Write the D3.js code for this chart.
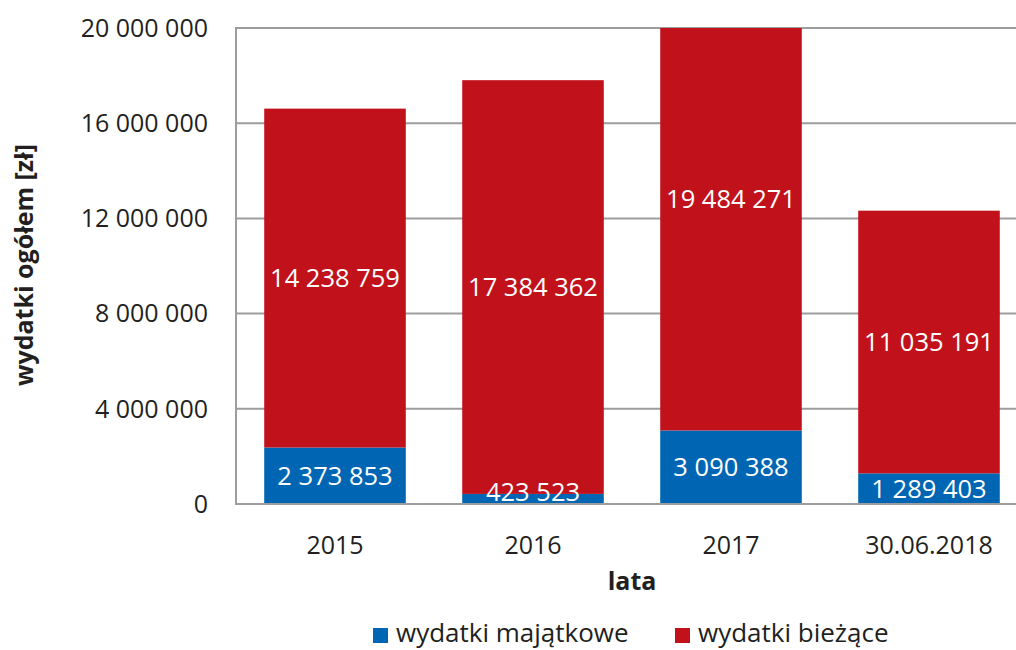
<!DOCTYPE html>
<html><head><meta charset="utf-8">
<script src="https://cdn.jsdelivr.net/npm/d3@7"></script>
<style>
html,body{margin:0;padding:0;background:#fff;}
svg{display:block;font-family:"Open Sans",sans-serif;}
</style></head>
<body><svg id="c" width="1016" height="650"></svg>
<script>
const categories = ["2015","2016","2017","30.06.2018"];
const majatkowe = [2373853, 423523, 3090388, 1289403];
const biezace = [14238759, 17384362, 19484271, 11035191];
const yTicks = [0, 4000000, 8000000, 12000000, 16000000, 20000000];
const seriesNames = ["wydatki majątkowe", "wydatki bieżące"];
const colors = ["#0066b3", "#c1121c"];

(function(){
const svg = d3.select("#c");
const pL = 236, pR = 1028, pT = 28, pB = 504;
const x = d3.scaleBand().domain(categories).range([pL, pR]).paddingInner(0.285).paddingOuter(0.1425);
const y = d3.scaleLinear().domain([0, 20000000]).range([pB, pT]);
const fmt = v => d3.format(",")(v).replace(/,/g, " ");
const txt = "#231f20";

svg.append("defs").append("clipPath").attr("id","pc")
  .append("rect").attr("x", pL).attr("y", pT).attr("width", pR-pL).attr("height", pB-pT);

svg.append("g").selectAll("line").data(yTicks.filter(d=>d>0)).join("line")
  .attr("x1", pL).attr("x2", pR).attr("y1", d=>y(d)).attr("y2", d=>y(d))
  .attr("stroke", "#9d9da0").attr("stroke-width", 2);

const data = categories.map((c,i)=>({c, a: majatkowe[i], b: biezace[i]}));
const g = svg.append("g").attr("clip-path","url(#pc)");
g.selectAll("rect.a").data(data).join("rect").attr("class","a")
  .attr("x", d=>x(d.c)).attr("width", x.bandwidth())
  .attr("y", d=>y(d.a)).attr("height", d=>y(0)-y(d.a)).attr("fill", colors[0]);
g.selectAll("rect.b").data(data).join("rect").attr("class","b")
  .attr("x", d=>x(d.c)).attr("width", x.bandwidth())
  .attr("y", d=>y(d.a+d.b)).attr("height", d=>y(d.a)-y(d.a+d.b)).attr("fill", colors[1]);

svg.append("line").attr("x1", pL).attr("x2", pL).attr("y1", pT-1).attr("y2", pB+1)
  .attr("stroke", "#9d9da0").attr("stroke-width", 2);
svg.append("line").attr("x1", pL-1).attr("x2", pR).attr("y1", pB).attr("y2", pB)
  .attr("stroke", "#9d9da0").attr("stroke-width", 2);

const lab = svg.append("g").attr("fill","#fff").attr("font-size", 25.5).attr("text-anchor","middle");
lab.selectAll("text.a").data(data).join("text").attr("class","a")
  .attr("x", d=>x(d.c)+x.bandwidth()/2)
  .attr("y", d=>Math.min((y(0)+y(d.a))/2, pB-12))
  .attr("dy","0.35em").text(d=>fmt(d.a));
lab.selectAll("text.b").data(data).join("text").attr("class","b")
  .attr("x", d=>x(d.c)+x.bandwidth()/2)
  .attr("y", d=>(y(d.a)+y(d.a+d.b))/2)
  .attr("dy","0.35em").text(d=>fmt(d.b));

svg.append("g").attr("font-size", 25).attr("fill",txt).attr("text-anchor","end")
  .selectAll("text").data(yTicks).join("text")
  .attr("x", 208).attr("y", d=>y(d)).attr("dy","0.35em").text(d=>fmt(d));

svg.append("g").attr("font-size", 25).attr("fill",txt).attr("text-anchor","middle")
  .selectAll("text").data(categories).join("text")
  .attr("x", d=>x(d)+x.bandwidth()/2).attr("y", 545).attr("dy","0.35em").text(d=>d);

svg.append("text").attr("x", (pL+pR)/2).attr("y", 581).attr("dy","0.35em")
  .attr("text-anchor","middle").attr("font-size", 25).attr("font-weight","bold").attr("fill",txt).text("lata");
svg.append("text").attr("transform","translate(24,265) rotate(-90)").attr("dy","0.35em")
  .attr("text-anchor","middle").attr("font-size", 25).attr("font-weight","bold").attr("fill",txt).text("wydatki ogółem [zł]");

const legX = [373, 675];
const leg = svg.append("g");
seriesNames.forEach((n,i)=>{
  leg.append("rect").attr("x", legX[i]).attr("y", 628).attr("width", 15).attr("height", 15).attr("fill", colors[i]);
  leg.append("text").attr("x", legX[i]+23).attr("y", 633).attr("dy","0.35em")
    .attr("font-size", 26).attr("fill",txt).text(n);
});
})();
</script></body></html>
